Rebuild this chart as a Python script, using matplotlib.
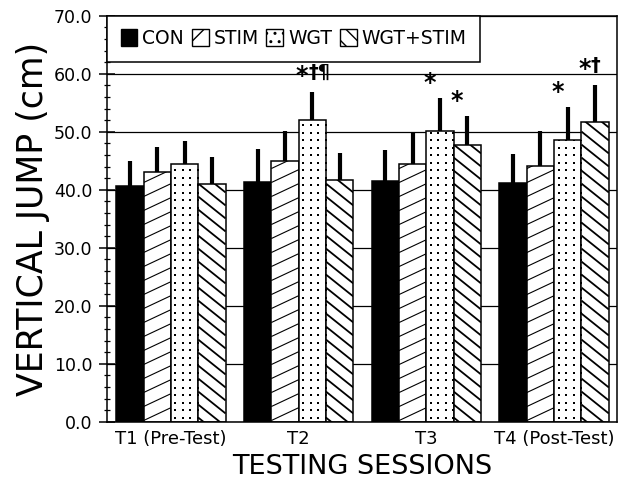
import numpy as np
import matplotlib
matplotlib.use('Agg')
import matplotlib.pyplot as plt
from matplotlib.patches import Patch
from matplotlib.collections import LineCollection
from matplotlib.ticker import MultipleLocator, FormatStrFormatter

plt.rcParams['font.family'] = ['DejaVu Sans']

sessions = ['T1 (Pre-Test)', 'T2', 'T3', 'T4 (Post-Test)']
groups = ['CON', 'STIM', 'WGT', 'WGT+STIM']

con_mean = [40.6, 41.3, 41.5, 41.1]
stim_mean = [43.0, 45.0, 44.4, 44.1]
wgt_mean = [44.4, 52.0, 50.2, 48.6]
wgtstim_mean = [41.0, 41.7, 47.7, 51.6]

con_sd = [4.3, 5.7, 5.4, 5.1]
stim_sd = [4.4, 5.2, 5.3, 6.1]
wgt_sd = [4.0, 4.9, 5.6, 5.6]
wgtstim_sd = [4.7, 4.6, 5.0, 6.5]

# (session, group, symbols)
marks = [(1, 2, '*†¶'), (2, 2, '*'), (2, 3, '*'), (3, 2, '*'), (3, 3, '*†')]

means = [con_mean, stim_mean, wgt_mean, wgtstim_mean]
sds = [con_sd, stim_sd, wgt_sd, wgtstim_sd]

fig = plt.figure(figsize=(6.2, 4.79), dpi=100)
pos = [0.1726, 0.1196, 0.8221, 0.8476]
ax = fig.add_axes(pos)
xmin, xmax = -0.5, 3.49
ax.set_xlim(xmin, xmax)
ax.set_ylim(0, 70)

# pixels per data unit, used for the hand drawn fill patterns
sx = pos[2] * 620 / (xmax - xmin)
sy = pos[3] * 479 / 70.0


def stripes(bar, slope_px, step_px, lw):
    x0 = bar.get_x()
    x1 = x0 + bar.get_width()
    h = bar.get_height()
    m = slope_px * sx / sy
    step = step_px / sy
    span = abs(m) * (x1 - x0)
    cs = np.arange(-span, h + span, step)
    segs = [[(x0, c), (x1, c + m * (x1 - x0))] for c in cs]
    lc = LineCollection(segs, colors='black', linewidths=lw, zorder=3)
    ax.add_collection(lc)
    lc.set_clip_path(bar)


def dots(bar, step_px):
    x0 = bar.get_x()
    x1 = x0 + bar.get_width()
    h = bar.get_height()
    dx = step_px / sx
    dy = step_px / sy
    gx, gy = np.meshgrid(np.arange(x0 + dx * 0.6, x1, dx), np.arange(dy * 0.5, h, dy))
    sc = ax.scatter(gx.ravel(), gy.ravel(), s=1.2, marker='s', color='black',
                    linewidths=0, zorder=3)
    sc.set_clip_path(bar)


x = np.arange(len(sessions))
w = 0.214
for k in range(4):
    xs = x + (k - 1.5) * w
    m = np.array(means[k])
    e = np.array(sds[k])
    bars = ax.bar(xs, m, w, color='black' if k == 0 else 'white',
                  edgecolor='black', linewidth=1.1, zorder=2)
    ax.vlines(xs, m, m + e, color='black', linewidth=3, zorder=4)
    for b in bars:
        if k == 1:
            stripes(b, 0.47, 14, 0.8)
        elif k == 2:
            dots(b, 7.5)
        elif k == 3:
            stripes(b, -0.8, 13, 1.3)

for s, g, txt in marks:
    bx = s + (g - 1.5) * w
    top = means[g][s] + sds[g][s]
    ax.annotate('*', (bx, top), xytext=(-3, 11), textcoords='offset points',
                ha='right', va='center', fontsize=17, fontweight='bold', zorder=5)
    if len(txt) > 1:
        ax.annotate(txt[1:], (bx, top), xytext=(-3, 14), textcoords='offset points',
                    ha='left', va='center', fontsize=14, fontweight='bold', zorder=5)

ax.set_xticks(x)
ax.set_xticklabels(sessions)
ax.set_yticks(np.arange(0, 71, 10))
ax.yaxis.set_major_formatter(FormatStrFormatter('%.1f'))
ax.yaxis.set_minor_locator(MultipleLocator(2))
ax.tick_params(axis='y', which='major', direction='inout', length=11, width=1.1,
               labelsize=12.5, pad=5)
ax.tick_params(axis='y', which='minor', direction='inout', length=4, width=0.9)
ax.tick_params(axis='x', length=0, labelsize=13, pad=6)

ax.yaxis.grid(True, color='black', linewidth=0.9)
ax.set_axisbelow(True)
for sp in ax.spines.values():
    sp.set_linewidth(1.1)

ax.set_xlabel('TESTING SESSIONS', fontsize=19.5, labelpad=4)
ax.set_ylabel('VERTICAL JUMP (cm)', fontsize=25, labelpad=3)

handles = [Patch(facecolor='black', edgecolor='black'),
           Patch(facecolor='white', edgecolor='black', hatch='/'),
           Patch(facecolor='white', edgecolor='black', hatch='..'),
           Patch(facecolor='white', edgecolor='black', hatch='\\\\')]
leg = ax.legend(handles, groups, loc='upper left', ncol=4, frameon=True,
                fancybox=False, edgecolor='black', framealpha=1, borderaxespad=0,
                fontsize=13.5, handlelength=0.9, handleheight=1.0,
                handletextpad=0.25, columnspacing=0.42, borderpad=0.72)
leg.get_frame().set_linewidth(1.1)
leg.set_zorder(6)

fig.savefig('out.png', dpi=100)
